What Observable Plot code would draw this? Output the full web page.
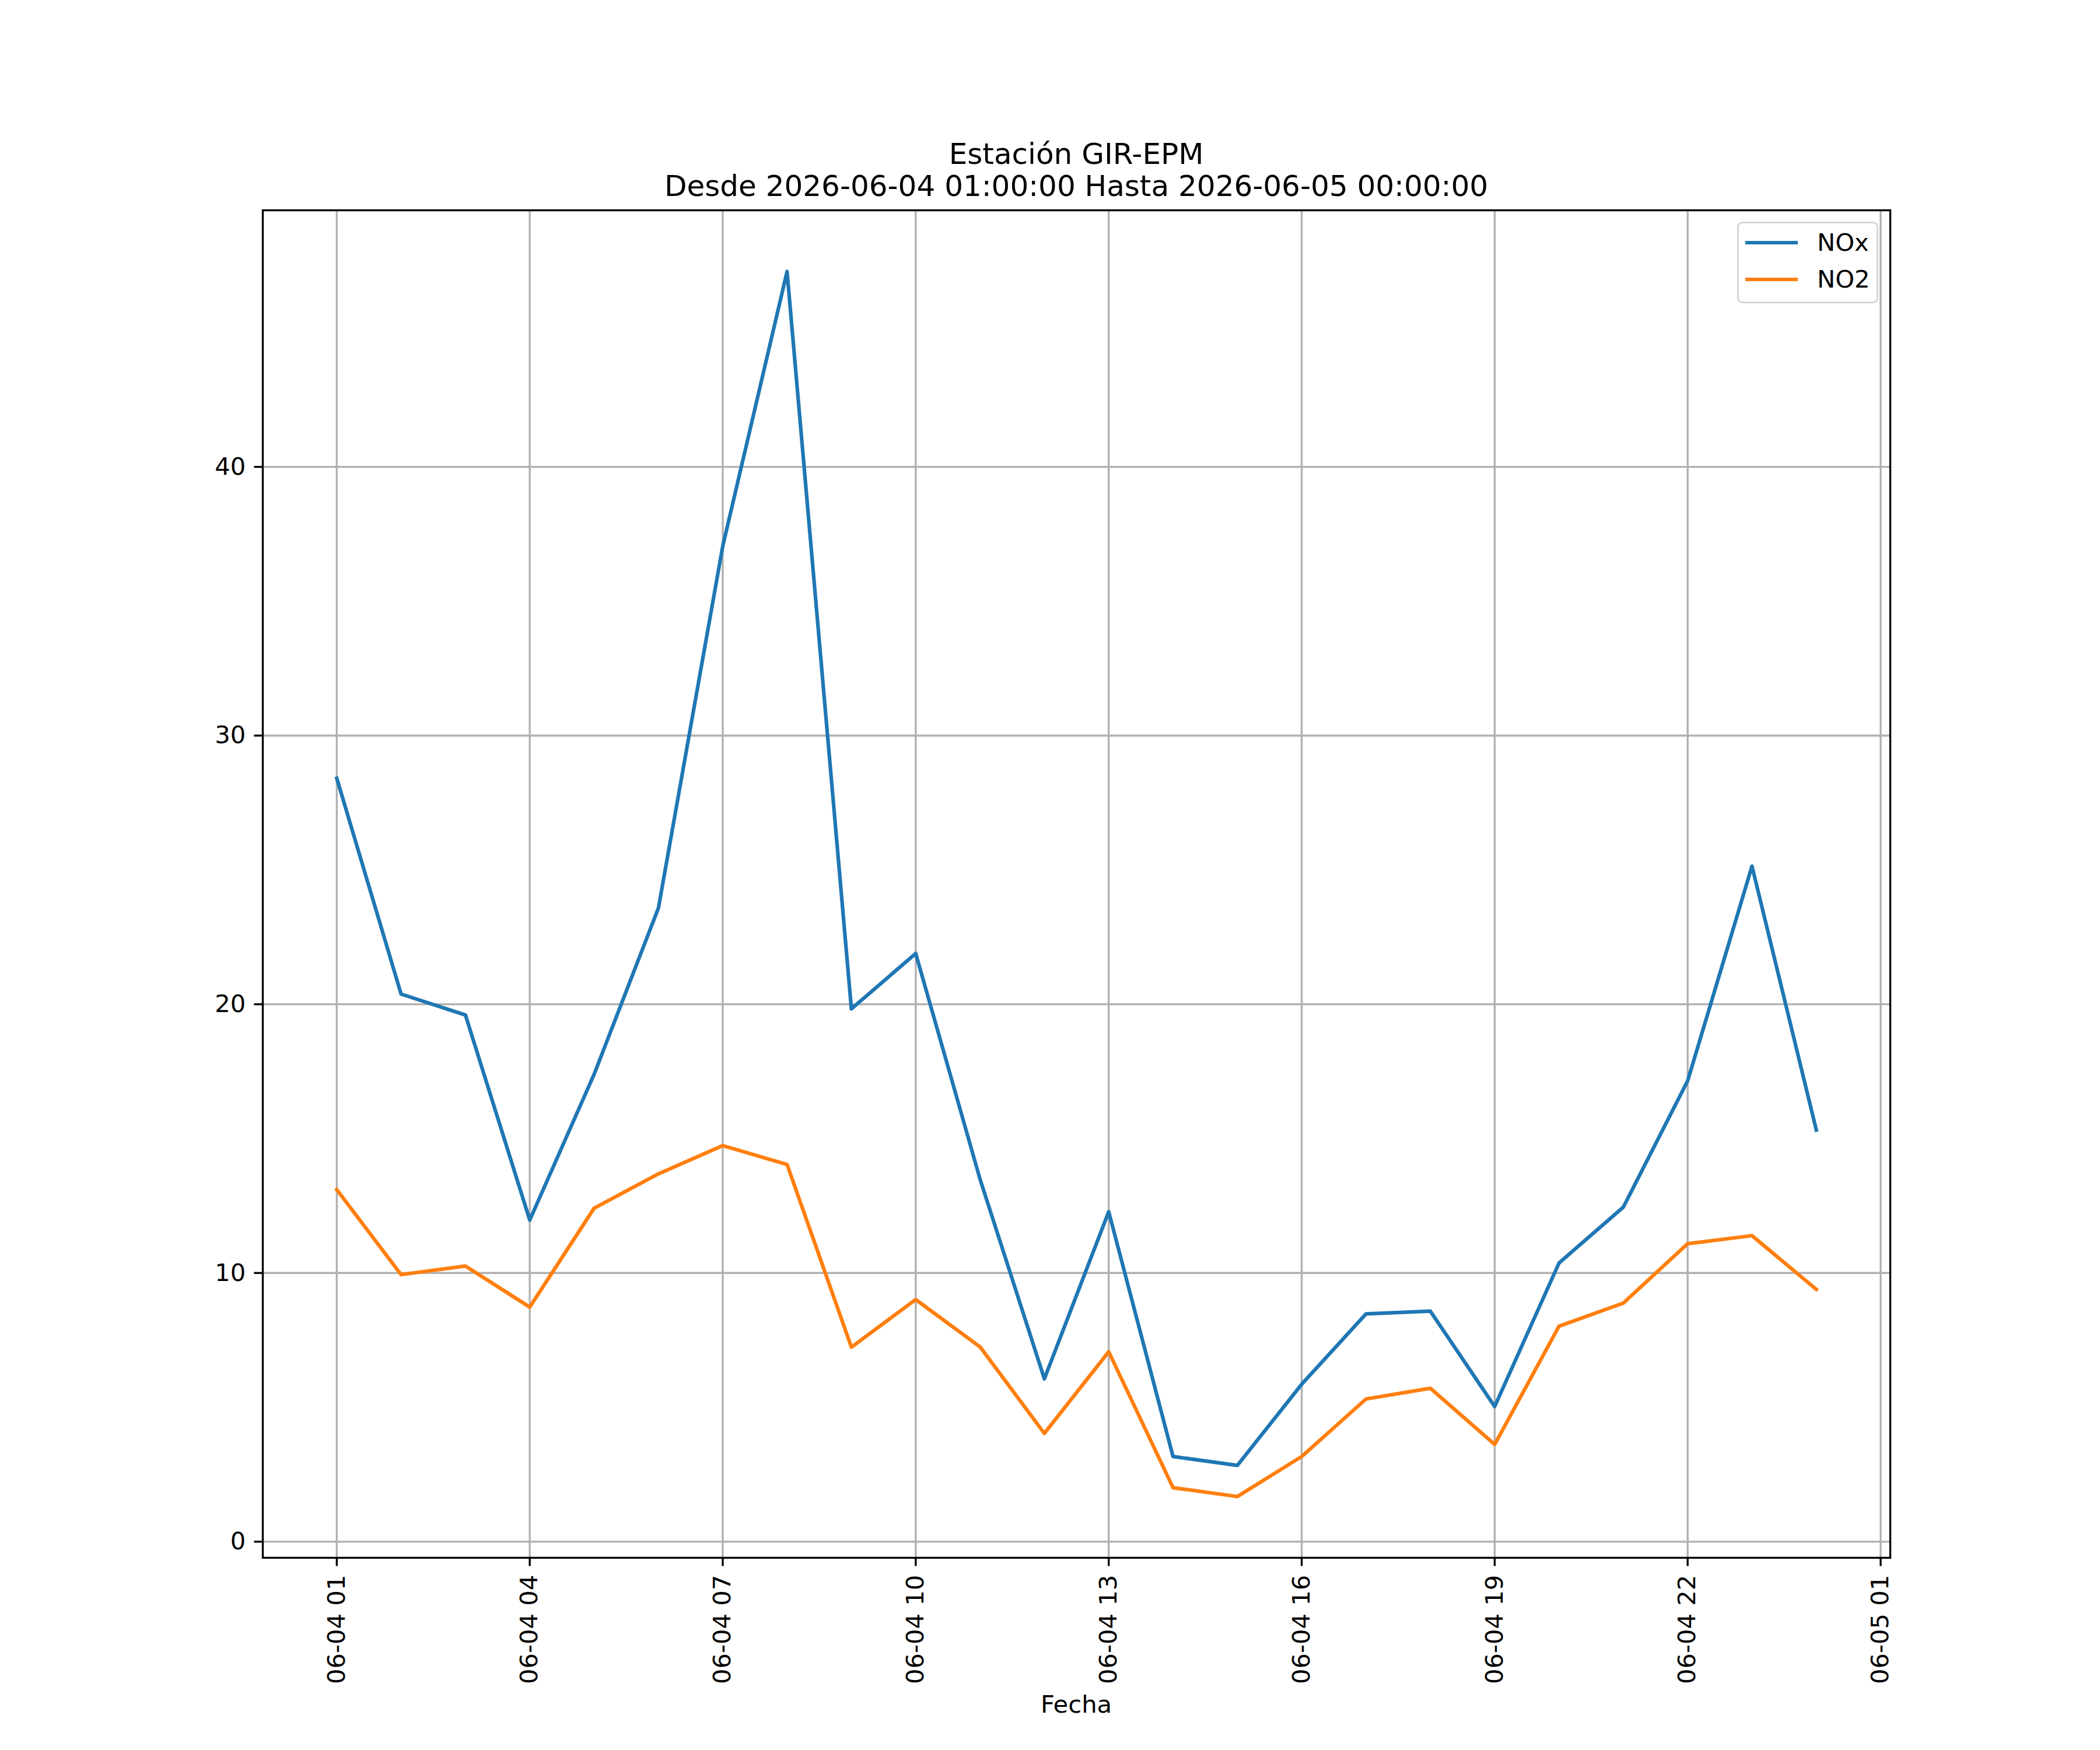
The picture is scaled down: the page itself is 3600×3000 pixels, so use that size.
<!DOCTYPE html>
<html><head><meta charset="utf-8">
<script src="https://cdn.jsdelivr.net/npm/d3@7"></script>
<script src="https://cdn.jsdelivr.net/npm/@observablehq/plot@0.6"></script>
<style>
body{margin:0;background:#fff;}
#wrap{position:relative;width:3600px;height:3000px;font-family:"DejaVu Sans";color:#000;background:#fff;}
.abs{position:absolute;white-space:nowrap;}
</style></head><body><div id="wrap"></div>
<script>
const titleLines = ["Estación GIR-EPM", "Desde 2026-06-04 01:00:00 Hasta 2026-06-05 00:00:00"];
const xLabel = "Fecha";
const times = [
  "2026-06-04T01:00Z","2026-06-04T02:00Z","2026-06-04T03:00Z","2026-06-04T04:00Z",
  "2026-06-04T05:00Z","2026-06-04T06:00Z","2026-06-04T07:00Z","2026-06-04T08:00Z",
  "2026-06-04T09:00Z","2026-06-04T10:00Z","2026-06-04T11:00Z","2026-06-04T12:00Z",
  "2026-06-04T13:00Z","2026-06-04T14:00Z","2026-06-04T15:00Z","2026-06-04T16:00Z",
  "2026-06-04T17:00Z","2026-06-04T18:00Z","2026-06-04T19:00Z","2026-06-04T20:00Z",
  "2026-06-04T21:00Z","2026-06-04T22:00Z","2026-06-04T23:00Z","2026-06-05T00:00Z"
];
const nox = [28.41, 20.38, 19.60, 11.97, 17.39, 23.58, 37.05, 47.27, 19.83, 21.89, 13.49, 6.06,
             12.28, 3.17, 2.84, 5.86, 8.48, 8.58, 5.03, 10.37, 12.45, 17.15, 25.14, 15.32];
const no2 = [13.10, 9.94, 10.26, 8.73, 12.41, 13.69, 14.74, 14.04, 7.24, 9.01, 7.25, 4.03,
             7.07, 2.01, 1.68, 3.17, 5.31, 5.71, 3.62, 8.02, 8.88, 11.09, 11.39, 9.39];
const seriesNames = ["NOx", "NO2"];
const seriesColors = ["#1f77b4", "#ff7f0e"];
const xTicks = ["2026-06-04T01:00Z","2026-06-04T04:00Z","2026-06-04T07:00Z","2026-06-04T10:00Z",
  "2026-06-04T13:00Z","2026-06-04T16:00Z","2026-06-04T19:00Z","2026-06-04T22:00Z","2026-06-05T01:00Z"];
const yTicks = [0, 10, 20, 30, 40];

const seriesValues = [nox, no2];
const rows = [];
seriesNames.forEach((s, i) => times.forEach((t, j) => rows.push({time: new Date(t), value: seriesValues[i][j], series: s})));

const tMin = new Date(times[0]), tMax = new Date(times[times.length - 1]);
const tPad = (tMax - tMin) * 0.05;
const allV = nox.concat(no2);
const vMin = d3.min(allV), vMax = d3.max(allV), vPad = (vMax - vMin) * 0.05;

const FS = 41.67, LW = 3.33, TK = 14.58;
const chart = Plot.plot({
  width: 3600, height: 3000,
  marginLeft: 450, marginRight: 360, marginTop: 360, marginBottom: 330,
  style: {fontFamily: "DejaVu Sans", fontSize: FS + "px", background: "white", color: "black", overflow: "visible"},
  x: {type: "utc", domain: [new Date(+tMin - tPad), new Date(+tMax + tPad)]},
  y: {domain: [vMin - vPad, vMax + vPad]},
  color: {domain: seriesNames, range: seriesColors},
  marks: [
    Plot.gridX(xTicks.map(d => new Date(d)), {stroke: "#b0b0b0", strokeOpacity: 1, strokeWidth: LW}),
    Plot.gridY(yTicks, {stroke: "#b0b0b0", strokeOpacity: 1, strokeWidth: LW}),
    Plot.line(rows, {x: "time", y: "value", z: "series", stroke: "series", strokeWidth: 6.25, strokeLinecap: "square", strokeLinejoin: "round"}),
    Plot.frame({stroke: "black", strokeWidth: LW}),
    Plot.axisY({ticks: yTicks, tickSize: TK, tickPadding: TK, strokeWidth: LW, fontSize: FS, label: null}),
    Plot.axisX({ticks: xTicks.map(d => new Date(d)), tickFormat: d3.utcFormat("%m-%d %H"), tickRotate: -90,
      textAnchor: "end", lineAnchor: "middle", tickSize: TK, tickPadding: TK, strokeWidth: LW, fontSize: FS, label: null})
  ]
});
const wrap = document.getElementById("wrap");
wrap.appendChild(chart);

function addText(txt, opts) {
  const d = document.createElement("div");
  d.className = "abs";
  d.textContent = txt;
  Object.assign(d.style, opts);
  wrap.appendChild(d);
  return d;
}
// title (centered over axes: 450..3240)
titleLines.forEach((t, i) => addText(t, {left: "450px", width: "2790px", textAlign: "center", top: (237 + i * 55) + "px", fontSize: "50px", lineHeight: "55px"}));
// x label
addText(xLabel, {left: "450px", width: "2790px", textAlign: "center", top: "2898px", fontSize: FS + "px", lineHeight: "48px"});
// legend
const box = document.createElement("div");
Object.assign(box.style, {position: "absolute", left: "2978px", top: "380px", width: "242px", height: "140px", boxSizing: "border-box",
  border: "3.3px solid rgba(204,204,204,0.8)", borderRadius: "9px", background: "rgba(255,255,255,0.8)"});
wrap.appendChild(box);
seriesNames.forEach((s, i) => {
  const ln = document.createElement("div");
  Object.assign(ln.style, {position: "absolute", left: "2992px", top: (413 + i * 62.7) + "px", width: "90px", height: "6.25px", background: seriesColors[i]});
  wrap.appendChild(ln);
  addText(s, {left: "3115px", top: (391.6 + i * 63) + "px", fontSize: FS + "px", lineHeight: "48px"});
});
</script></body></html>
